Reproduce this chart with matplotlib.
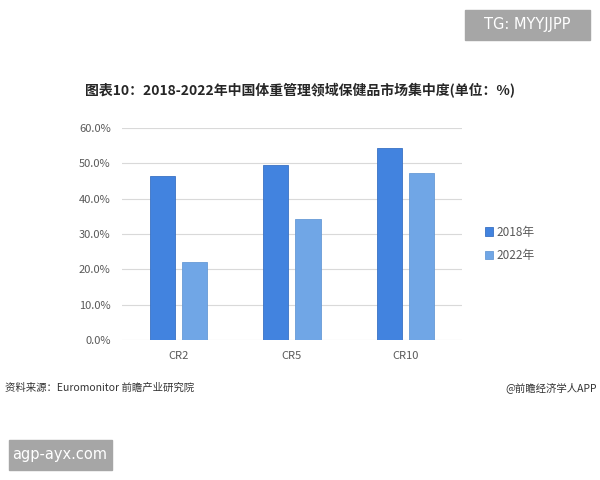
import numpy as np
import matplotlib.pyplot as plt
from matplotlib.patches import Rectangle

plt.rcParams['font.family'] = ['Noto Sans CJK SC', 'DejaVu Sans']

categories = ["CR2", "CR5", "CR10"]
v2018 = [46.5, 49.4, 54.2]
v2022 = [22.0, 34.1, 47.2]
years = ["2018年", "2022年"]
yticks = [0, 10, 20, 30, 40, 50, 60]

c18 = "#4283DF"
c22 = "#70A6E6"

fig = plt.figure(figsize=(6, 4.8), dpi=100)
ax = fig.add_axes([0.203, 0.2917, 0.567, 0.4417])

x = np.arange(len(categories))
w = 0.223
ax.bar(x - 0.142, v2018, w, color=c18, edgecolor="#3A72C4", linewidth=0.6, label=years[0], zorder=3)
ax.bar(x + 0.142, v2022, w, color=c22, edgecolor="#679AD6", linewidth=0.6, label=years[1], zorder=3)

ax.set_xlim(-0.5, 2.5)
ax.set_ylim(0, 60)
ax.set_yticks(yticks)
ax.set_yticklabels([f"{t:.1f}%" for t in yticks], fontsize=8, color="#595959")
ax.set_xticks(x)
ax.set_xticklabels(categories, fontsize=8, color="#595959")
ax.tick_params(length=0, pad=8)
ax.grid(axis="y", color="#D9D9D9", linewidth=0.8, zorder=0)
for s in ax.spines.values():
    s.set_visible(False)

leg = fig.legend(loc="center left", bbox_to_anchor=(0.79, 0.492), frameon=False,
                 fontsize=8.5, handlelength=0.7, handleheight=0.7, handletextpad=0.3,
                 labelspacing=0.9)
for t in leg.get_texts():
    t.set_color("#595959")

fig.text(0.5, 0.812, "图表10：2018-2022年中国体重管理领域保健品市场集中度(单位：%)",
         ha="center", va="center", fontsize=10, fontweight="bold", color="#262626")
fig.text(0.008, 0.193, "资料来源：Euromonitor 前瞻产业研究院", ha="left", va="center",
         fontsize=7.5, color="#333333")
fig.text(0.995, 0.193, "@前瞻经济学人APP", ha="right", va="center",
         fontsize=7.5, color="#333333")

# grey label boxes
fig.patches.append(Rectangle((465/600, 1 - 40/480), 125/600, 30/480,
                             transform=fig.transFigure, color="#A6A6A6", zorder=0))
fig.text(527/600, 1 - 25/480, "TG: MYYJJPP", ha="center", va="center",
         fontsize=10.5, color="white", family="DejaVu Sans")
fig.patches.append(Rectangle((9/600, 1 - 470/480), 103/600, 30/480,
                             transform=fig.transFigure, color="#A6A6A6", zorder=0))
fig.text(60/600, 1 - 455/480, "agp-ayx.com", ha="center", va="center",
         fontsize=10.5, color="white", family="DejaVu Sans")

fig.savefig("out.png", dpi=100)
